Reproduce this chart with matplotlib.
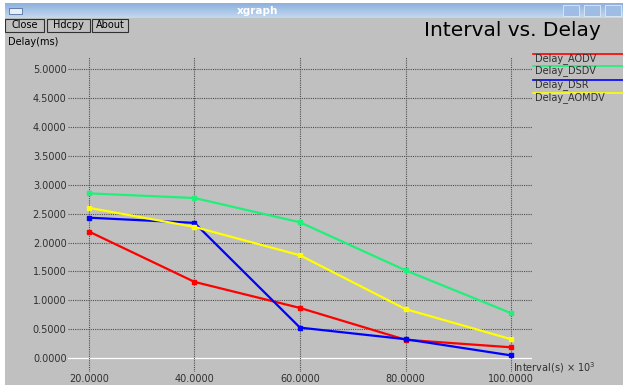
import numpy as np
import matplotlib
matplotlib.use("Agg")
import matplotlib.pyplot as plt
from matplotlib.patches import Rectangle

# data
interval = [20, 40, 60, 80, 100]
delay_aodv = [2.19, 1.32, 0.87, 0.32, 0.19]
delay_dsdv = [2.85, 2.77, 2.35, 1.52, 0.78]
delay_dsr = [2.43, 2.34, 0.53, 0.33, 0.05]
delay_aomdv = [2.60, 2.27, 1.78, 0.85, 0.33]
series_names = ["Delay_AODV", "Delay_DSDV", "Delay_DSR", "Delay_AOMDV"]
yticks = [0.0, 0.5, 1.0, 1.5, 2.0, 2.5, 3.0, 3.5, 4.0, 4.5, 5.0]

W, H = 623, 385
bg = "#c0c0c0"
colors = ["#ff0000", "#1ef07a", "#0000ff", "#ffff00"]


def fx(px):
    return px / W


def fy(py):
    return 1 - py / H


fig = plt.figure(figsize=(W / 100, H / 100), dpi=100)
fig.patch.set_facecolor(bg)

# window decoration
fig.patches.append(Rectangle((0, fy(3)), 1, 3 / H, transform=fig.transFigure,
                             facecolor="white", edgecolor="none"))
fig.patches.append(Rectangle((0, 0), 5 / W, 1, transform=fig.transFigure,
                             facecolor="white", edgecolor="none", zorder=5))
tb = fig.add_axes([0, fy(18), 1, 15 / H])
grad = np.linspace(0, 1, 50).reshape(-1, 1)
tb.imshow(grad, aspect="auto", cmap=matplotlib.colors.LinearSegmentedColormap.from_list(
    "tb", ["#8db0dd", "#c4d9f0"]), extent=[0, 1, 0, 1])
tb.set_axis_off()
tb.text(0.414, 0.5, "xgraph", color="white", fontsize=7.5, fontweight="bold",
        ha="center", va="center")
tb.add_patch(Rectangle((9 / W, 0.3), 13 / W, 0.4, facecolor="#e8eef8", edgecolor="#5070a0", lw=0.6))
for bx in [563, 584, 605]:
    tb.add_patch(Rectangle((bx / W, 0.15), 16 / W, 0.7, facecolor="#9fbde4", edgecolor="#dfe9f6", lw=0.6))

# buttons
for label, x0, x1 in [("Close", 5, 44), ("Hdcpy", 47, 90), ("About", 92, 128)]:
    fig.patches.append(Rectangle((fx(x0), fy(32)), (x1 - x0) / W, 13 / H,
                                 transform=fig.transFigure, facecolor=bg,
                                 edgecolor="#303030", lw=0.8))
    fig.text(fx((x0 + x1) / 2), fy(25.5), label, fontsize=7, ha="center", va="center")

fig.text(fx(8), fy(42), "Delay(ms)", fontsize=7, ha="left", va="center")
fig.text(fx(601), fy(31), "Interval vs. Delay", fontsize=14.5, ha="right", va="center")

# main plot area
ax = fig.add_axes([fx(68), fy(372), 464 / W, 315 / H])
ax.set_facecolor(bg)
ax.patch.set_alpha(0)
for s in ax.spines.values():
    s.set_visible(False)
ax.set_xlim(16.02, 103.98)
ax.set_ylim(-0.237, 5.207)

for yv in yticks:
    if yv == 0:
        ax.axhline(yv, color="white", lw=0.9, zorder=1)
    else:
        ax.axhline(yv, color="#505050", lw=0.8, ls=(0, (1, 1)), zorder=1)
for xv in interval:
    ax.axvline(xv, color="#505050", lw=0.8, ls=(0, (1, 1)), zorder=1)

all_series = [delay_aodv, delay_dsdv, delay_dsr, delay_aomdv]
for vals, c in zip(all_series, colors):
    ax.plot(interval, vals, color=c, lw=1.6, marker="s", ms=3, zorder=3)

ax.set_yticks(yticks)
ax.set_yticklabels(["%.4f" % v for v in yticks], fontsize=7, color="#303030")
ax.set_xticks(interval)
ax.set_xticklabels(["%.4f" % v for v in interval], fontsize=7, color="#303030")
ax.tick_params(length=0, pad=1)
ax.tick_params(axis="x", pad=1.5)

fig.text(fx(513), fy(368), r"Interval(s) $\times$ 10$^3$", fontsize=7, ha="left", va="center",
         color="#303030")

# legend on the right
leg_y = [54, 66, 80, 93]
for name, c, ly in zip(series_names, colors, leg_y):
    fig.add_artist(plt.Line2D([fx(533), 1], [fy(ly), fy(ly)], color=c, lw=1.2,
                              transform=fig.transFigure))
    fig.text(fx(535), fy(ly + 5), name, fontsize=7, ha="left", va="center", color="#303030")

fig.savefig("out.png", dpi=100, facecolor=bg)
